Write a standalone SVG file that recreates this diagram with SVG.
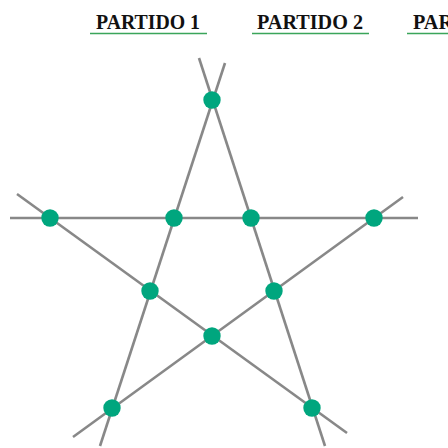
<svg xmlns="http://www.w3.org/2000/svg" width="448" height="448" viewBox="0 0 448 448">
<style>
.hdr{font-family:"Liberation Serif","Times New Roman",serif;font-weight:bold;font-size:21px;fill:#111}
.ul{stroke:#3aa55a;stroke-width:1.6}
.ln{stroke:#888;stroke-width:2.6;fill:none;stroke-linecap:butt}
.dot{fill:#00a67e}
</style>
<rect width="448" height="448" fill="#fff"/>
<g id="headers">
<g id="h1"><text class="hdr" x="96" y="29" textLength="104" lengthAdjust="spacingAndGlyphs">PARTIDO 1</text><line class="ul" x1="90" y1="33.5" x2="207" y2="33.5"/></g>
<g id="h2"><text class="hdr" x="257" y="29" textLength="106" lengthAdjust="spacingAndGlyphs">PARTIDO 2</text><line class="ul" x1="252" y1="33.5" x2="369" y2="33.5"/></g>
<g id="h3"><text class="hdr" x="413" y="29" textLength="106" lengthAdjust="spacingAndGlyphs">PARTIDO 3</text><line class="ul" x1="407" y1="33.5" x2="524" y2="33.5"/></g>
</g>
<g id="connectors">
<line class="ln" x1="10" y1="218" x2="418" y2="218"/>
<line class="ln" x1="225" y1="63" x2="100" y2="446"/>
<line class="ln" x1="199" y1="58" x2="325" y2="446"/>
<line class="ln" x1="17" y1="194" x2="347" y2="433"/>
<line class="ln" x1="403" y1="197" x2="73" y2="437"/>
</g>
<g id="n1"><circle class="dot" cx="212" cy="100" r="8.7"/></g>
<g id="n2"><circle class="dot" cx="50" cy="218" r="8.7"/></g>
<g id="n3"><circle class="dot" cx="174" cy="218" r="8.7"/></g>
<g id="n4"><circle class="dot" cx="251" cy="218" r="8.7"/></g>
<g id="n5"><circle class="dot" cx="374" cy="218" r="8.7"/></g>
<g id="n6"><circle class="dot" cx="150" cy="291" r="8.7"/></g>
<g id="n7"><circle class="dot" cx="274" cy="291" r="8.7"/></g>
<g id="n8"><circle class="dot" cx="212" cy="336" r="8.7"/></g>
<g id="n9"><circle class="dot" cx="112" cy="408" r="8.7"/></g>
<g id="n10"><circle class="dot" cx="312" cy="408" r="8.7"/></g>
</svg>
